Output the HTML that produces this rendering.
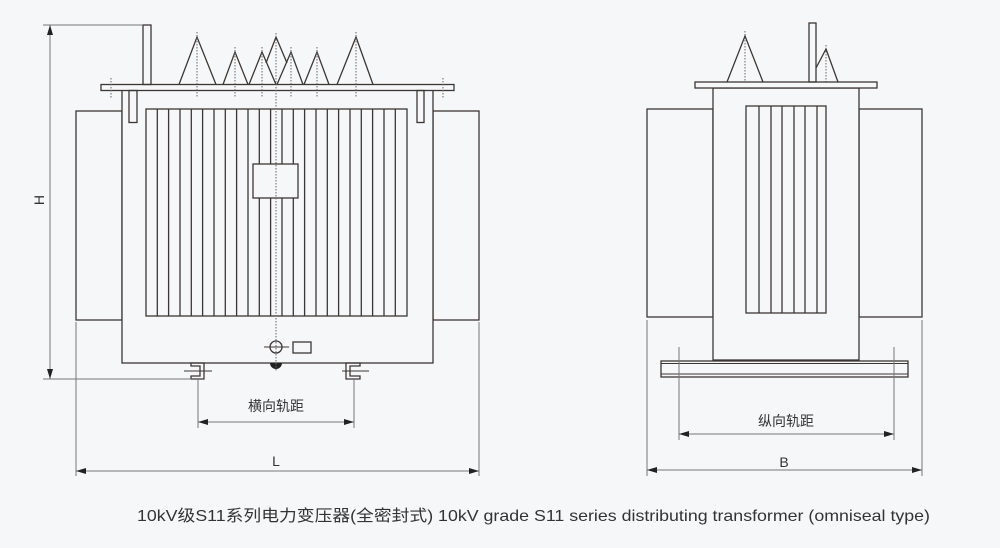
<!DOCTYPE html>
<html><head><meta charset="utf-8"><style>
html,body{margin:0;padding:0;background:#f6f7f9;}
svg{display:block}
</style></head><body>
<svg width="1000" height="548" viewBox="0 0 1000 548" xmlns="http://www.w3.org/2000/svg">
<defs>
<marker id="a" viewBox="0 0 10 6" refX="10" refY="3" markerWidth="10" markerHeight="6" orient="auto-start-reverse" markerUnits="userSpaceOnUse"><path d="M0,0 L10,3 L0,6 Z" fill="#222"/></marker>
</defs>
<rect width="1000" height="548" fill="#f6f7f9"/>
<g fill="none" stroke="#3d3734" stroke-width="1.3">
<!-- LEFT VIEW -->
<rect x="76" y="111" width="46" height="209"/>
<rect x="433" y="111" width="46" height="209"/>
<rect x="122" y="90" width="311" height="273" fill="#f6f7f9"/>
<rect x="101" y="84.5" width="353" height="6" fill="#f6f7f9"/>
<rect x="143" y="25" width="8" height="59.5"/>
<rect x="129" y="90.5" width="8" height="32"/>
<rect x="417" y="90.5" width="7" height="32"/>
<rect x="146" y="109" width="261" height="207"/>
<path d="M157.3,109V316M168.6,109V316M180,109V316M191.3,109V316M202.6,109V316M214,109V316M225.3,109V316M236.6,109V316M248,109V316M259.3,109V164M259.3,198V316M270.6,109V164M270.6,198V316M282,109V164M282,198V316M293.3,109V164M293.3,198V316M304.6,109V316M316,109V316M327.3,109V316M338.6,109V316M350,109V316M361.3,109V316M372.6,109V316M384,109V316M395.3,109V316"/>
<rect x="253" y="164" width="45" height="34" fill="#f6f7f9"/>
<!-- cones -->
<path d="M179,84.5L197,37L216,84.5"/>
<path d="M223,84.5L235,52L248,84.5"/>
<path d="M249,84.5L262,52L276,84.5"/>
<path d="M266,63L276,37L287,63"/>
<path d="M277,84.5L291,52L303,84.5"/>
<path d="M304,84.5L317,52L329,84.5"/>
<path d="M337,84.5L356,37L373,84.5"/>
<!-- bottom details -->
<circle cx="276" cy="347" r="6"/>
<path d="M264,347H289" stroke-width="1"/>
<rect x="293" y="342" width="18" height="11"/>
<path d="M191,363H204V379H191V376H200V366H191Z"/>
<path d="M360,363H346V379H360V376H350V366H360Z"/>
<path d="M184,371H212M342,371H369" stroke-width="1"/>
</g>
<path d="M270,363A6,6 0 0 0 282,363Z" fill="#222"/>
<g fill="none" stroke="#666" stroke-width="1" stroke-dasharray="1.5,1.5">
<path d="M276,33V372M197,32V97M235,47V97M262,47V97M291,47V97M317,47V97M356,32V97M111,78V98M443,78V98"/>
<path d="M745,31V95M826,45V93"/>
</g>
<!-- dims left -->
<g fill="none" stroke="#777" stroke-width="1">
<path d="M43,25H143M43,379H190"/>
<path d="M50,25V379" marker-start="url(#a)" marker-end="url(#a)"/>
<path d="M198,379V428M354,379V428M76,322V476M479,322V476"/>
<path d="M198,422H354" marker-start="url(#a)" marker-end="url(#a)"/>
<path d="M76,471H479" marker-start="url(#a)" marker-end="url(#a)"/>
</g>
<!-- RIGHT VIEW -->
<g fill="none" stroke="#3d3734" stroke-width="1.3">
<rect x="647" y="109" width="66" height="208"/>
<rect x="859" y="109" width="63" height="208"/>
<rect x="713" y="88" width="146" height="272" fill="#f6f7f9"/>
<rect x="695" y="82" width="182" height="6" fill="#f6f7f9"/>
<rect x="746" y="106" width="80" height="207"/>
<path d="M759,106V313M771,106V313M782,106V313M794,106V313M805,106V313M817,106V313"/>
<rect x="661" y="361" width="247" height="16" fill="#f6f7f9"/>
<path d="M661,363.5H908M661,374H908" stroke-width="1"/>
<path d="M727,82L745,36L763,82"/>
<rect x="809" y="23" width="7" height="59"/>
<path d="M816,68L826,49L838,82"/>
</g>
<g fill="none" stroke="#777" stroke-width="1">
<path d="M679,347V440M894,347V440M647,320V476M922,320V476"/>
<path d="M679,434H894" marker-start="url(#a)" marker-end="url(#a)"/>
<path d="M647,470H922" marker-start="url(#a)" marker-end="url(#a)"/>
</g>
<g font-family="'Liberation Sans','Noto Sans CJK SC',sans-serif" fill="#333" font-size="14">
<text x="276" y="411" text-anchor="middle">横向轨距</text>
<text x="786" y="426" text-anchor="middle">纵向轨距</text>
<text x="276" y="466" text-anchor="middle">L</text>
<text x="784" y="467" text-anchor="middle">B</text>
<text x="0" y="0" transform="translate(44,200) rotate(-90)" text-anchor="middle">H</text>
<text x="137" y="521" font-size="16" textLength="793" lengthAdjust="spacingAndGlyphs">10kV级S11系列电力变压器(全密封式)  10kV grade S11 series distributing transformer (omniseal type)</text>
</g>
</svg>
</body></html>
